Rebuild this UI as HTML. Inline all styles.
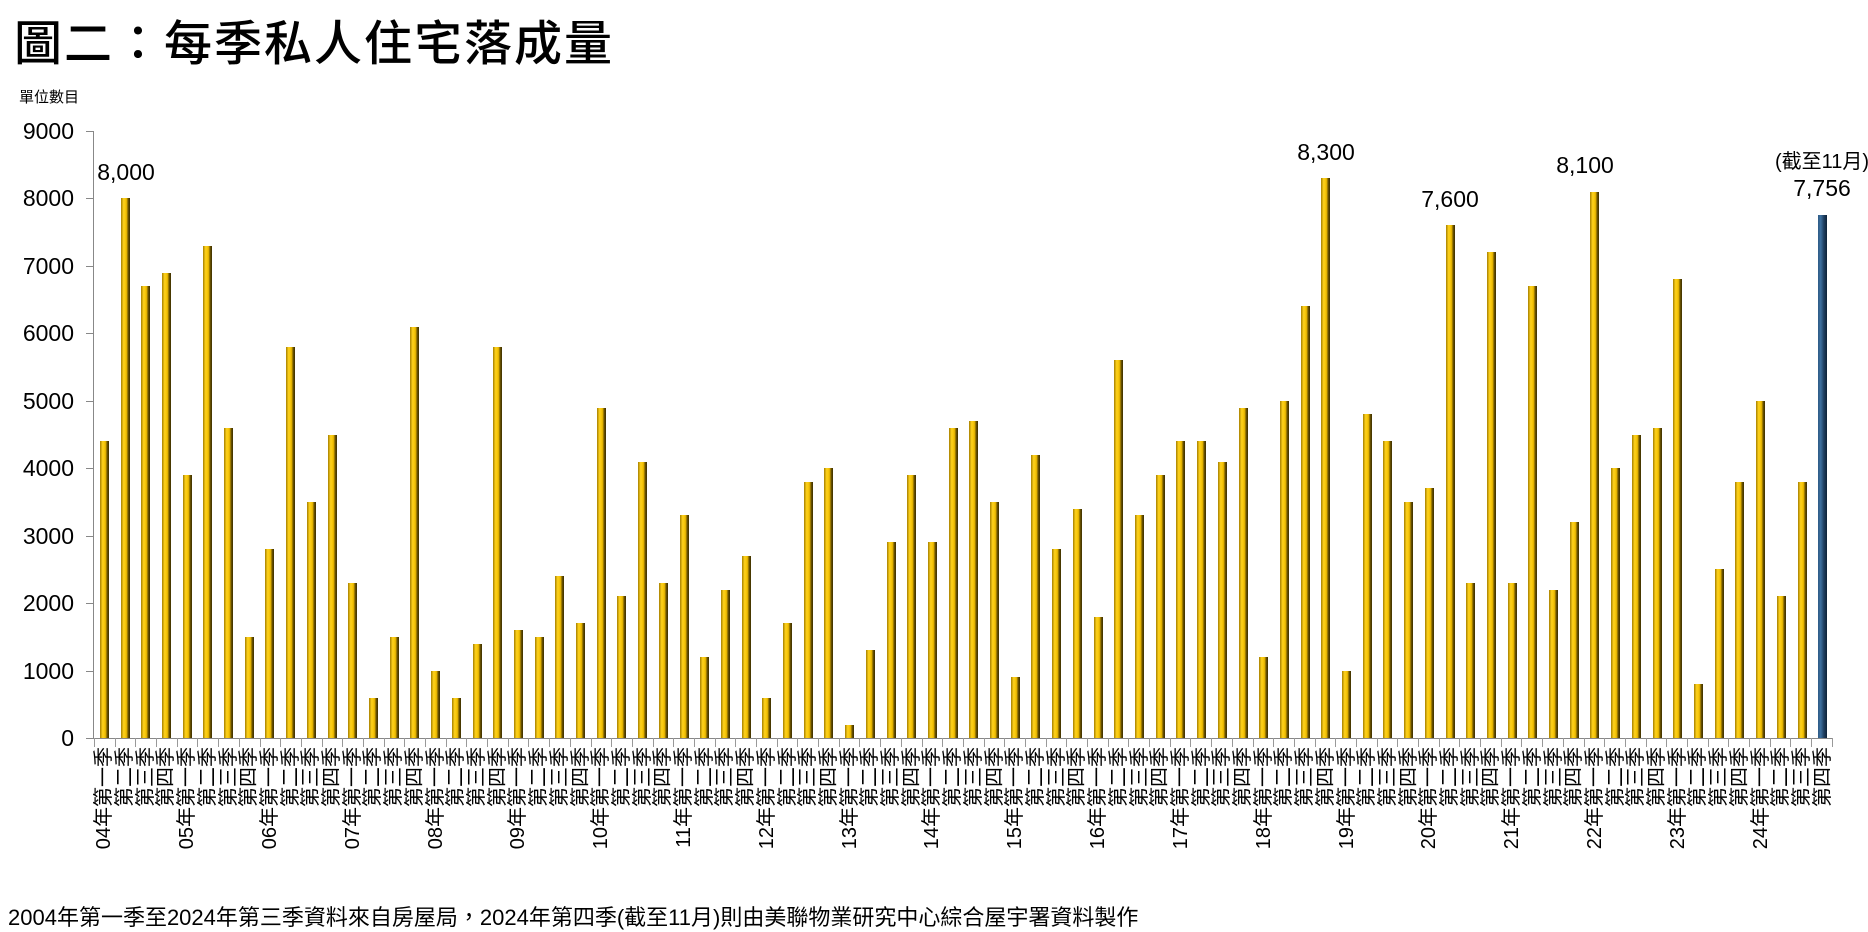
<!DOCTYPE html>
<html><head><meta charset="utf-8"><style>
body{margin:0;width:1868px;height:932px;background:#fff;position:relative;overflow:hidden;font-family:"Liberation Sans","Noto Sans CJK TC",sans-serif;color:#000}
.t{position:absolute;left:14px;top:4px;font-size:48px;font-weight:500;font-family:"Noto Sans CJK TC",sans-serif;letter-spacing:2px;white-space:nowrap}
.u{position:absolute;left:19px;top:86px;font-size:15px;font-family:"Noto Sans CJK TC",sans-serif}
.yl{position:absolute;left:0;width:74px;text-align:right;font-size:23px;line-height:24px}
.yaxis{position:absolute;left:93px;top:131px;width:1px;height:607px;background:#888}
.ytick{position:absolute;left:86px;width:7px;height:1px;background:#888}
.xaxis{position:absolute;left:93px;top:738px;width:1740px;height:1px;background:#888}
.bars{position:absolute;left:94px;width:1739px;top:131px;height:607px;display:flex;align-items:flex-end}
.bars div{flex:1;min-width:0;display:flex;justify-content:center;align-items:flex-end;height:100%}
.bars i{display:block;width:9px;height:calc(var(--v) * 0.06744px);background:linear-gradient(to right,#a67f00,#ffd31c 30%,#f0bd00 60%,#6b5300 80%,#3a2d00)}
.bars i.n{background:linear-gradient(to right,#2e5a85,#3d6f9e 30%,#1f3f60 65%,#0d2238)}
.xt{position:absolute;top:738px;height:0;left:94px;width:1739px;display:flex}
.xt div{flex:1;min-width:0;border-left:1px solid #999;height:9px}
.xt div:last-child{border-right:1px solid #999}
.labels{position:absolute;left:94px;width:1739px;top:747px;display:flex;align-items:flex-start}
.labels div{flex:1 1 0;min-width:0;width:0;display:flex;justify-content:center;overflow:visible}
.labels span{flex:none;writing-mode:vertical-rl;text-orientation:sideways;transform:rotate(180deg);font-size:20px;line-height:20px;font-family:"Liberation Sans","Noto Sans CJK TC",sans-serif;white-space:nowrap}
.dl{position:absolute;font-size:23px;transform:translateX(-50%);white-space:nowrap;line-height:24px}
.foot{position:absolute;left:8px;top:900px;font-size:22px;font-family:"Liberation Sans","Noto Sans CJK TC",sans-serif;white-space:nowrap}
</style></head><body>
<div class="t">圖二：每季私人住宅落成量</div>
<div class="u">單位數目</div>
<div class="yl" style="top:119px">9000</div>
<div class="yl" style="top:186px">8000</div>
<div class="yl" style="top:254px">7000</div>
<div class="yl" style="top:321px">6000</div>
<div class="yl" style="top:389px">5000</div>
<div class="yl" style="top:456px">4000</div>
<div class="yl" style="top:524px">3000</div>
<div class="yl" style="top:591px">2000</div>
<div class="yl" style="top:659px">1000</div>
<div class="yl" style="top:726px">0</div>
<div class="yaxis"></div>
<div class="ytick" style="top:131px"></div><div class="ytick" style="top:198px"></div><div class="ytick" style="top:266px"></div><div class="ytick" style="top:333px"></div><div class="ytick" style="top:401px"></div><div class="ytick" style="top:468px"></div><div class="ytick" style="top:536px"></div><div class="ytick" style="top:603px"></div><div class="ytick" style="top:671px"></div><div class="ytick" style="top:738px"></div>
<div class="bars">
<div><i style="--v:4400"></i></div><div><i style="--v:8000"></i></div><div><i style="--v:6700"></i></div><div><i style="--v:6900"></i></div>
<div><i style="--v:3900"></i></div><div><i style="--v:7300"></i></div><div><i style="--v:4600"></i></div><div><i style="--v:1500"></i></div>
<div><i style="--v:2800"></i></div><div><i style="--v:5800"></i></div><div><i style="--v:3500"></i></div><div><i style="--v:4500"></i></div>
<div><i style="--v:2300"></i></div><div><i style="--v:600"></i></div><div><i style="--v:1500"></i></div><div><i style="--v:6100"></i></div>
<div><i style="--v:1000"></i></div><div><i style="--v:600"></i></div><div><i style="--v:1400"></i></div><div><i style="--v:5800"></i></div>
<div><i style="--v:1600"></i></div><div><i style="--v:1500"></i></div><div><i style="--v:2400"></i></div><div><i style="--v:1700"></i></div>
<div><i style="--v:4900"></i></div><div><i style="--v:2100"></i></div><div><i style="--v:4100"></i></div><div><i style="--v:2300"></i></div>
<div><i style="--v:3300"></i></div><div><i style="--v:1200"></i></div><div><i style="--v:2200"></i></div><div><i style="--v:2700"></i></div>
<div><i style="--v:600"></i></div><div><i style="--v:1700"></i></div><div><i style="--v:3800"></i></div><div><i style="--v:4000"></i></div>
<div><i style="--v:200"></i></div><div><i style="--v:1300"></i></div><div><i style="--v:2900"></i></div><div><i style="--v:3900"></i></div>
<div><i style="--v:2900"></i></div><div><i style="--v:4600"></i></div><div><i style="--v:4700"></i></div><div><i style="--v:3500"></i></div>
<div><i style="--v:900"></i></div><div><i style="--v:4200"></i></div><div><i style="--v:2800"></i></div><div><i style="--v:3400"></i></div>
<div><i style="--v:1800"></i></div><div><i style="--v:5600"></i></div><div><i style="--v:3300"></i></div><div><i style="--v:3900"></i></div>
<div><i style="--v:4400"></i></div><div><i style="--v:4400"></i></div><div><i style="--v:4100"></i></div><div><i style="--v:4900"></i></div>
<div><i style="--v:1200"></i></div><div><i style="--v:5000"></i></div><div><i style="--v:6400"></i></div><div><i style="--v:8300"></i></div>
<div><i style="--v:1000"></i></div><div><i style="--v:4800"></i></div><div><i style="--v:4400"></i></div><div><i style="--v:3500"></i></div>
<div><i style="--v:3700"></i></div><div><i style="--v:7600"></i></div><div><i style="--v:2300"></i></div><div><i style="--v:7200"></i></div>
<div><i style="--v:2300"></i></div><div><i style="--v:6700"></i></div><div><i style="--v:2200"></i></div><div><i style="--v:3200"></i></div>
<div><i style="--v:8100"></i></div><div><i style="--v:4000"></i></div><div><i style="--v:4500"></i></div><div><i style="--v:4600"></i></div>
<div><i style="--v:6800"></i></div><div><i style="--v:800"></i></div><div><i style="--v:2500"></i></div><div><i style="--v:3800"></i></div>
<div><i style="--v:5000"></i></div><div><i style="--v:2100"></i></div><div><i style="--v:3800"></i></div><div><i class="n" style="--v:7756"></i></div>
</div>
<div class="xaxis"></div>
<div class="xt">
<div></div><div></div><div></div><div></div><div></div><div></div><div></div><div></div><div></div><div></div><div></div><div></div>
<div></div><div></div><div></div><div></div><div></div><div></div><div></div><div></div><div></div><div></div><div></div><div></div>
<div></div><div></div><div></div><div></div><div></div><div></div><div></div><div></div><div></div><div></div><div></div><div></div>
<div></div><div></div><div></div><div></div><div></div><div></div><div></div><div></div><div></div><div></div><div></div><div></div>
<div></div><div></div><div></div><div></div><div></div><div></div><div></div><div></div><div></div><div></div><div></div><div></div>
<div></div><div></div><div></div><div></div><div></div><div></div><div></div><div></div><div></div><div></div><div></div><div></div>
<div></div><div></div><div></div><div></div><div></div><div></div><div></div><div></div><div></div><div></div><div></div><div></div>
</div>
<div class="labels">
<div><span>04年第一季</span></div><div><span>第二季</span></div><div><span>第三季</span></div><div><span>第四季</span></div>
<div><span>05年第一季</span></div><div><span>第二季</span></div><div><span>第三季</span></div><div><span>第四季</span></div>
<div><span>06年第一季</span></div><div><span>第二季</span></div><div><span>第三季</span></div><div><span>第四季</span></div>
<div><span>07年第一季</span></div><div><span>第二季</span></div><div><span>第三季</span></div><div><span>第四季</span></div>
<div><span>08年第一季</span></div><div><span>第二季</span></div><div><span>第三季</span></div><div><span>第四季</span></div>
<div><span>09年第一季</span></div><div><span>第二季</span></div><div><span>第三季</span></div><div><span>第四季</span></div>
<div><span>10年第一季</span></div><div><span>第二季</span></div><div><span>第三季</span></div><div><span>第四季</span></div>
<div><span>11年第一季</span></div><div><span>第二季</span></div><div><span>第三季</span></div><div><span>第四季</span></div>
<div><span>12年第一季</span></div><div><span>第二季</span></div><div><span>第三季</span></div><div><span>第四季</span></div>
<div><span>13年第一季</span></div><div><span>第二季</span></div><div><span>第三季</span></div><div><span>第四季</span></div>
<div><span>14年第一季</span></div><div><span>第二季</span></div><div><span>第三季</span></div><div><span>第四季</span></div>
<div><span>15年第一季</span></div><div><span>第二季</span></div><div><span>第三季</span></div><div><span>第四季</span></div>
<div><span>16年第一季</span></div><div><span>第二季</span></div><div><span>第三季</span></div><div><span>第四季</span></div>
<div><span>17年第一季</span></div><div><span>第二季</span></div><div><span>第三季</span></div><div><span>第四季</span></div>
<div><span>18年第一季</span></div><div><span>第二季</span></div><div><span>第三季</span></div><div><span>第四季</span></div>
<div><span>19年第一季</span></div><div><span>第二季</span></div><div><span>第三季</span></div><div><span>第四季</span></div>
<div><span>20年第一季</span></div><div><span>第二季</span></div><div><span>第三季</span></div><div><span>第四季</span></div>
<div><span>21年第一季</span></div><div><span>第二季</span></div><div><span>第三季</span></div><div><span>第四季</span></div>
<div><span>22年第一季</span></div><div><span>第二季</span></div><div><span>第三季</span></div><div><span>第四季</span></div>
<div><span>23年第一季</span></div><div><span>第二季</span></div><div><span>第三季</span></div><div><span>第四季</span></div>
<div><span>24年第一季</span></div><div><span>第二季</span></div><div><span>第三季</span></div><div><span>第四季</span></div>
</div>
<div class="dl" style="left:126px;top:160px">8,000</div>
<div class="dl" style="left:1326px;top:140px">8,300</div>
<div class="dl" style="left:1450px;top:187px">7,600</div>
<div class="dl" style="left:1585px;top:153px">8,100</div>
<div class="dl" style="left:1822px;top:150px;font-size:20px">(截至11月)</div>
<div class="dl" style="left:1822px;top:176px">7,756</div>
<div class="foot">2004年第一季至2024年第三季資料來自房屋局，2024年第四季(截至11月)則由美聯物業研究中心綜合屋宇署資料製作</div>
</body></html>
